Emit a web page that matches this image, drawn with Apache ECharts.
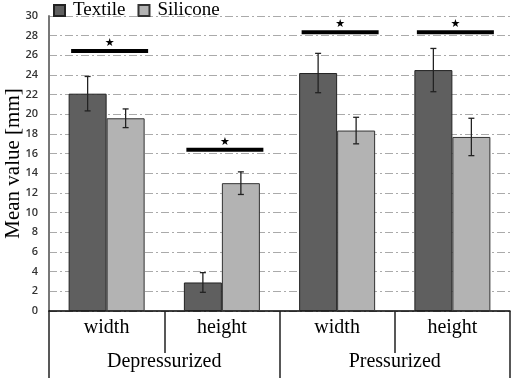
<!DOCTYPE html>
<html>
<head>
<meta charset="utf-8">
<script src="https://cdn.jsdelivr.net/npm/echarts@6/dist/echarts.min.js"></script>
<style>
  html, body { margin: 0; padding: 0; background: #fff; }
  #chart { width: 512px; height: 378px; }
</style>
</head>
<body>
<div id="chart"></div>
<script>
var chart = echarts.init(document.getElementById('chart'));

var categories = ['width', 'height', 'width', 'height'];
var groups = ['Depressurized', 'Pressurized'];
var textileMean = [22.1, 2.9, 24.2, 24.5];
var textileErr = [1.75, 1.0, 2.0, 2.2];
var siliconeMean = [19.6, 13.0, 18.35, 17.7];
var siliconeErr = [0.95, 1.15, 1.35, 1.9];
// height of the significance bars
var sigLevel = [26.45, 16.4, 28.35, 28.35];

var serif = 'Liberation Serif';
var barW = 38;

var errData = [];
for (var i = 0; i < categories.length; i++) {
    errData.push([i, textileMean[i] - textileErr[i], textileMean[i] + textileErr[i], -1]);
    errData.push([i, siliconeMean[i] - siliconeErr[i], siliconeMean[i] + siliconeErr[i], 1]);
}
var sigData = sigLevel.map(function (v, i) { return [i, v]; });

function renderErr(params, api) {
    var side = api.value(3);
    var lo = api.coord([api.value(0), api.value(1)]);
    var hi = api.coord([api.value(0), api.value(2)]);
    var x = lo[0] + side * barW / 2;
    var style = { stroke: '#222', lineWidth: 1.3 };
    return {
        type: 'group',
        children: [
            { type: 'line', shape: { x1: x, y1: lo[1], x2: x, y2: hi[1] }, style: style },
            { type: 'line', shape: { x1: x - 3, y1: lo[1], x2: x + 3, y2: lo[1] }, style: style },
            { type: 'line', shape: { x1: x - 3, y1: hi[1], x2: x + 3, y2: hi[1] }, style: style }
        ]
    };
}

function renderSig(params, api) {
    var p = api.coord([api.value(0), api.value(1)]);
    var cx = p[0] + 3;
    return {
        type: 'group',
        children: [
            { type: 'line', shape: { x1: cx - 38.5, y1: p[1], x2: cx + 38.5, y2: p[1] },
              style: { stroke: '#000', lineWidth: 4 } },
            { type: 'text', x: cx, y: p[1] - 8,
              style: { text: '★', fill: '#000', font: '11px DejaVu Sans', align: 'center', verticalAlign: 'middle' } }
        ]
    };
}

var option = {
    animation: false,
    grid: { left: 49, right: 2, top: 16, bottom: 67, outerBoundsMode: 'none', containLabel: false },
    legend: {
        data: ['Textile', 'Silicone'],
        left: 48,
        top: -4,
        icon: 'rect',
        itemWidth: 11,
        itemHeight: 11,
        itemGap: 12,
        textStyle: { fontFamily: serif, fontSize: 19, color: '#000', padding: [0, 0, 0, 3] }
    },
    xAxis: [{
        type: 'category',
        data: categories,
        position: 'bottom',
        axisLine: { show: true, lineStyle: { color: '#000', width: 1.5 } },
        axisTick: { show: true, interval: 0, length: 42, lineStyle: { color: '#222', width: 1.5 } },
        axisLabel: { interval: 0, margin: 7, fontFamily: serif, fontSize: 20, color: '#000' }
    }, {
        type: 'category',
        data: groups,
        position: 'bottom',
        axisLine: { show: false },
        axisTick: { show: true, interval: 0, length: 67, lineStyle: { color: '#222', width: 1.5 } },
        axisLabel: { interval: 0, margin: 41, fontFamily: serif, fontSize: 20, color: '#000' }
    }],
    yAxis: {
        type: 'value',
        min: 0,
        max: 30,
        interval: 2,
        name: 'Mean value [mm]',
        nameLocation: 'middle',
        nameGap: 25,
        nameMoveOverlap: false,
        nameTextStyle: { fontFamily: serif, fontSize: 21, color: '#000' },
        axisLine: { show: true, lineStyle: { color: '#777', width: 2 } },
        axisTick: { show: false },
        axisLabel: { margin: 11, fontFamily: 'Open Sans', fontSize: 11, fontWeight: 600, color: '#333' },
        splitLine: { show: true, lineStyle: { color: '#aaa', width: 1, type: [8, 3, 2, 3] } }
    },
    series: [{
        name: 'Textile',
        type: 'bar',
        data: textileMean,
        barWidth: barW,
        barGap: '0%',
        itemStyle: { color: '#5f5f5f', borderColor: '#222', borderWidth: 1 }
    }, {
        name: 'Silicone',
        type: 'bar',
        data: siliconeMean,
        barWidth: barW,
        barGap: '0%',
        itemStyle: { color: '#b3b3b3', borderColor: '#333', borderWidth: 1 }
    }, {
        type: 'custom',
        renderItem: renderErr,
        data: errData,
        encode: { x: 0, y: [1, 2] },
        z: 5
    }, {
        type: 'custom',
        renderItem: renderSig,
        data: sigData,
        encode: { x: 0, y: 1 },
        z: 5
    }]
};

chart.setOption(option);
window.onresize = function () {
    chart.resize();
};
</script>
</body>
</html>
